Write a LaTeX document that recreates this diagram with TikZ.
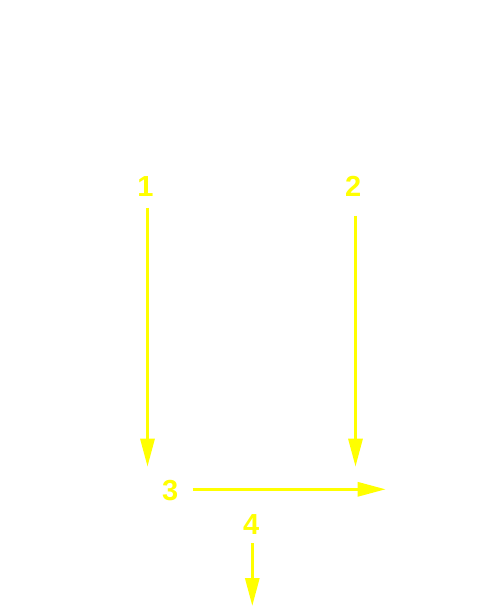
\documentclass[tikz,border=0pt]{standalone}
\usepackage{fontspec}
\setmainfont{Liberation Sans}
\usetikzlibrary{arrows.meta}
\definecolor{arrowyellow}{HTML}{FFFF00}
\tikzset{
  lbl/.style={text=arrowyellow, font=\fontsize{29}{29}\selectfont\bfseries, inner sep=0pt, anchor=center},
  yarrow/.style={draw=arrowyellow, line width=3pt, -{Triangle[length=28pt,width=14pt]}}
}
\begin{document}
\begin{tikzpicture}[x=1pt,y=-1pt]
\useasboundingbox (0,0) rectangle (500,616);
\node[lbl] (l1) at (145.5,186.5) {1};
\node[lbl] (l2) at (353.3,186.5) {2};
\node[lbl] (l3) at (170.2,490.5) {3};
\node[lbl] (l4) at (251.3,524.2) {4};
\coordinate (a1s) at (147.5,207.7);
\coordinate (a1e) at (147.5,466.7);
\coordinate (a2s) at (355.5,215.7);
\coordinate (a2e) at (355.5,466.7);
\coordinate (a3s) at (192.7,489.3);
\coordinate (a3e) at (385.7,489.3);
\coordinate (a4s) at (252.3,543);
\coordinate (a4e) at (252.3,606);
\draw[yarrow] (a1s) -- (a1e);
\draw[yarrow] (a2s) -- (a2e);
\draw[yarrow] (a3s) -- (a3e);
\draw[yarrow] (a4s) -- (a4e);
\end{tikzpicture}
\end{document}
